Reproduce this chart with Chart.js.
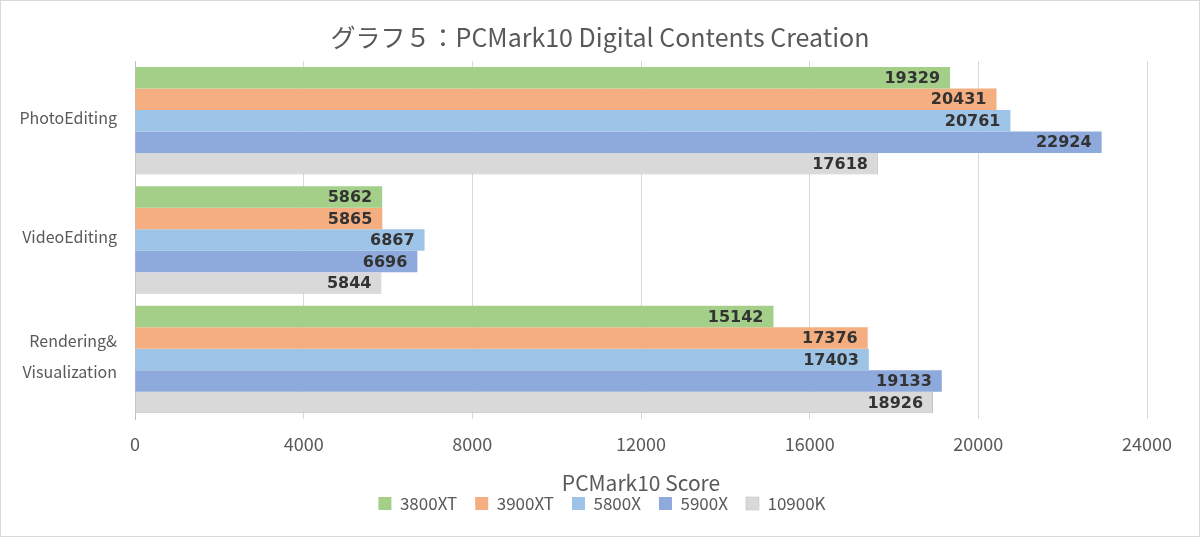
<!DOCTYPE html>
<html><head><meta charset="utf-8">
<script src="https://cdn.jsdelivr.net/npm/chart.js@4/dist/chart.umd.min.js"></script>
<style>
html,body{margin:0;padding:0;background:#fff;}
#wrap{position:relative;width:1198px;height:535px;border:1px solid #d9d9d9;}
</style></head>
<body><div id="wrap"><canvas id="c" width="1198" height="535"></canvas></div>
<script>
const categories = [["PhotoEditing"], ["VideoEditing"], ["Rendering&", "Visualization"]];
const seriesNames = ["3800XT", "3900XT", "5800X", "5900X", "10900K"];
const s3800XT = [19329, 5862, 15142];
const s3900XT = [20431, 5865, 17376];
const s5800X = [20761, 6867, 17403];
const s5900X = [22924, 6696, 19133];
const s10900K = [17618, 5844, 18926];
const colors = ["#A3CF88", "#F4AE80", "#9DC3E6", "#8EA9DB", "#D9D9D9"];
const edgeColors = ["#A3CF88", "#F4AE80", "#9DC3E6", "#8EA9DB", "#BFBFBF"];
const allSeries = [s3800XT, s3900XT, s5800X, s5900X, s10900K];

const font = "'Noto Sans CJK JP','Noto Sans',sans-serif";

const labelPlugin = {
  id: 'barLabels',
  afterDatasetsDraw(chart) {
    const ctx = chart.ctx;
    ctx.save();
    ctx.font = "bold 16px 'DejaVu Sans',sans-serif";
    ctx.fillStyle = '#333333';
    ctx.textAlign = 'right';
    ctx.textBaseline = 'middle';
    chart.data.datasets.forEach((ds, i) => {
      const meta = chart.getDatasetMeta(i);
      meta.data.forEach((bar, j) => {
        ctx.fillText(String(ds.data[j]), bar.x - 10, bar.y + 1);
      });
    });
    ctx.restore();
  }
};

const blockShift = {
  id: 'blockShift',
  afterLayout(chart) {
    if (chart.legend) { chart.legend.left += 28; chart.legend.right += 28; }
    if (chart.titleBlock) { chart.titleBlock.left += 26; chart.titleBlock.right += 26; }
  }
};

new Chart(document.getElementById('c'), {
  type: 'bar',
  data: {
    labels: categories,
    datasets: seriesNames.map((n, i) => ({
      label: n, data: allSeries[i], backgroundColor: colors[i],
      borderColor: edgeColors[i],
      borderWidth: i === 4 ? { top: 0, left: 0, right: 1, bottom: 1 } : 0,
      borderSkipped: false,
      categoryPercentage: 0.9, barPercentage: 1.0
    }))
  },
  options: {
    indexAxis: 'y',
    responsive: false,
    animation: false,
    layout: { padding: { left: 0, right: 52, top: 4, bottom: 14 } },
    plugins: {
      title: { display: true, text: 'グラフ５：PCMark10 Digital Contents Creation',
        color: '#595959', font: { family: font, size: 25, weight: 'normal' },
        padding: { top: 17, bottom: 9 } },
      legend: { position: 'bottom',
        labels: { color: '#595959', font: { family: font, size: 17 }, boxWidth: 13, boxHeight: 13, padding: 18 } },
      tooltip: { enabled: false }
    },
    scales: {
      x: { min: 0, max: 24000,
        ticks: { stepSize: 4000, color: '#595959', font: { family: font, size: 18 }, padding: 14,
          callback: (v) => String(v) },
        grid: { color: '#d9d9d9', drawTicks: false },
        border: { display: false },
        title: { display: true, text: 'PCMark10 Score', color: '#595959', font: { family: font, size: 21 }, padding: { top: 2, bottom: -19 } }
      },
      y: {
        ticks: { color: '#595959', font: { family: font, size: 16, lineHeight: 1.95 }, padding: 10, labelOffset: -3 },
        grid: { display: false },
        border: { display: true, color: '#bfbfbf' },
        afterFit(scale) { scale.width = 134; }
      }
    }
  },
  plugins: [labelPlugin, blockShift]
});
</script></body></html>
